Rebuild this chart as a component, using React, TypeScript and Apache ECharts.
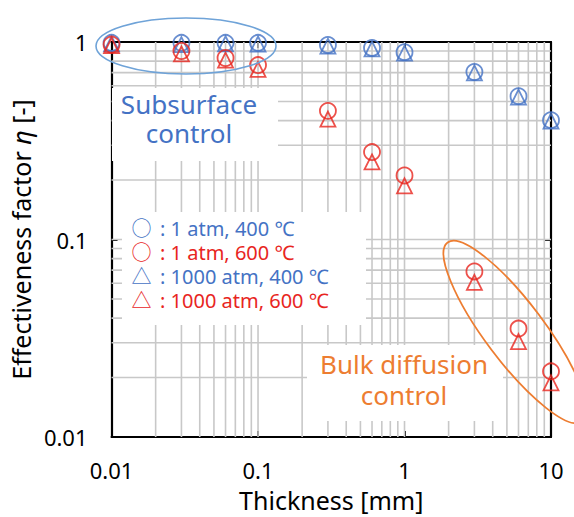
import React, { useEffect, useRef } from 'react';
import * as echarts from 'echarts';

// ---- data ----
const thickness = [0.01, 0.03, 0.06, 0.1, 0.3, 0.6, 1, 3, 6, 10];
const eta1atm400 = [0.99, 0.99, 0.99, 0.99, 0.966, 0.933, 0.888, 0.705, 0.532, 0.402];
const eta1atm600 = [0.97, 0.9, 0.83, 0.764, 0.448, 0.277, 0.211, 0.0689, 0.0354, 0.0215];
const eta1000atm400 = [0.98, 0.97, 0.98, 0.977, 0.952, 0.923, 0.878, 0.697, 0.526, 0.398];
const eta1000atm600 = [0.96, 0.87, 0.81, 0.727, 0.407, 0.247, 0.187, 0.0607, 0.0304, 0.0188];

const xTickValues = [0.01, 0.1, 1, 10];
const xTickLabels = ['0.01', '0.1', '1', '10'];
const yTickValues = [0.01, 0.1, 1];
const yTickLabels = ['0.01', '0.1', '1'];

const xGridValues = [
  0.02, 0.03, 0.04, 0.05, 0.06, 0.07, 0.08, 0.09,
  0.1, 0.2, 0.3, 0.4, 0.5, 0.6, 0.7, 0.8, 0.9,
  1, 2, 3, 4, 5, 6, 7, 8, 9,
];
const yGridValues = [
  0.02, 0.03, 0.04, 0.05, 0.06, 0.07, 0.08, 0.09,
  0.1, 0.2, 0.3, 0.4, 0.5, 0.6, 0.7, 0.8, 0.9,
];

// legend rows: marker glyph, condition text
const legendMarks = ['○', '○', '△', '△'];
const legendTexts = ['1 atm, 400 ℃', '1 atm, 600 ℃', '1000 atm, 400 ℃', '1000 atm, 600 ℃'];

const BLUE = '#4472C4';
const RED = '#E8251E';
const ORANGE = '#ED7D31';
const LIGHTBLUE = '#6FA3D8';
const GRID = '#C8C8C8';
const FONT = '"Noto Sans", "Noto Sans CJK JP", sans-serif';

const X_MIN = 0.01, X_MAX = 10, Y_MIN = 0.01, Y_MAX = 1;

function lookup(values: number[], labels: string[], v: number) {
  const i = values.findIndex((t) => Math.abs(Math.log10(t) - Math.log10(v)) < 1e-6);
  return i >= 0 ? labels[i] : '';
}

function pairs(ys: number[]) {
  return thickness.map((x, i) => [x, ys[i]]);
}

export default function App() {
  const ref = useRef<HTMLDivElement>(null);

  useEffect(() => {
    const chart = echarts.init(ref.current!, null, { renderer: 'svg' });

    const gridData = [
      ...xGridValues.map((v) => [v, 1, 0]),
      ...yGridValues.map((v) => [1, v, 1]),
    ];

    const axisLine = { show: true, lineStyle: { color: '#000', width: 2.2 } };
    const axisTick = { show: true, inside: true, length: 6, lineStyle: { color: '#000', width: 2 } };

    const scatterBase = {
      type: 'scatter',
      xAxisIndex: 0,
      yAxisIndex: 0,
      z: 5,
      silent: true,
    };

    const legendElements = legendMarks.map((m, i) => ({
      type: 'text', silent: true, z: 10, x: 131.5, y: 228 + i * 24.3,
      style: {
        text: `${m}\u2009 : ${legendTexts[i]}`,
        fill: i % 2 === 0 ? BLUE : RED,
        font: `20px ${FONT}`,
        align: 'left',
        verticalAlign: 'middle',
      },
    }));

    const option: any = {
      animation: false,
      backgroundColor: '#fff',
      grid: { left: 109.5, right: 23, top: 42, bottom: 75.5, containLabel: false },
      xAxis: [
        {
          type: 'log',
          logBase: 10,
          min: X_MIN,
          max: X_MAX,
          position: 'bottom',
          axisLine,
          axisTick,
          splitLine: { show: false },
          axisLabel: {
            fontSize: 22,
            lineHeight: 22,
            fontFamily: FONT,
            color: '#000',
            margin: 22,
            formatter: (v: number) => lookup(xTickValues, xTickLabels, v),
          },
          name: 'Thickness [mm]',
          nameLocation: 'middle',
          nameGap: 50,
          nameTextStyle: { fontSize: 25, lineHeight: 25, fontFamily: FONT, color: '#000' },
        },
        {
          type: 'log',
          logBase: 10,
          min: X_MIN,
          max: X_MAX,
          position: 'top',
          axisLine,
          axisTick,
          splitLine: { show: false },
          axisLabel: { show: false },
        },
      ],
      yAxis: [
        {
          type: 'log',
          logBase: 10,
          min: Y_MIN,
          max: Y_MAX,
          position: 'left',
          axisLine,
          axisTick,
          splitLine: { show: false },
          axisLabel: {
            fontSize: 22,
            lineHeight: 22,
            fontFamily: FONT,
            color: '#000',
            margin: 24,
            formatter: (v: number) => lookup(yTickValues, yTickLabels, v),
          },
          name: 'Effectiveness factor {i|η} [-]',
          nameLocation: 'middle',
          nameGap: 67,
          nameTextStyle: {
            fontSize: 25,
            lineHeight: 25,
            fontFamily: FONT,
            color: '#000',
            rich: { i: { fontSize: 25, lineHeight: 25, fontFamily: FONT, fontStyle: 'italic', color: '#000' } },
          },
        },
        {
          type: 'log',
          logBase: 10,
          min: Y_MIN,
          max: Y_MAX,
          position: 'right',
          axisLine,
          axisTick,
          splitLine: { show: false },
          axisLabel: { show: false },
        },
      ],
      series: [
        {
          type: 'custom',
          xAxisIndex: 0,
          yAxisIndex: 0,
          z: 1,
          silent: true,
          clip: false,
          data: gridData,
          encode: { x: 0, y: 1 },
          renderItem: (_params: any, api: any) => {
            const o = api.value(2);
            let p1: number[], p2: number[];
            if (o === 0) {
              const v = api.value(0);
              p1 = api.coord([v, Y_MIN]);
              p2 = api.coord([v, Y_MAX]);
            } else {
              const v = api.value(1);
              p1 = api.coord([X_MIN, v]);
              p2 = api.coord([X_MAX, v]);
            }
            return {
              type: 'line',
              shape: { x1: p1[0], y1: p1[1], x2: p2[0], y2: p2[1] },
              style: { stroke: GRID, lineWidth: 1.6 },
            };
          },
        },
        {
          ...scatterBase,
          name: '1 atm, 400 ℃',
          symbol: 'circle',
          symbolSize: 16,
          itemStyle: { color: 'rgba(0,0,0,0)', borderColor: BLUE, borderWidth: 1.8 },
          data: pairs(eta1atm400),
        },
        {
          ...scatterBase,
          name: '1000 atm, 400 ℃',
          symbol: 'triangle',
          symbolSize: 15,
          itemStyle: { color: 'rgba(0,0,0,0)', borderColor: BLUE, borderWidth: 1.8 },
          data: pairs(eta1000atm400),
        },
        {
          ...scatterBase,
          name: '1 atm, 600 ℃',
          symbol: 'circle',
          symbolSize: 16,
          itemStyle: { color: 'rgba(0,0,0,0)', borderColor: RED, borderWidth: 1.8 },
          data: pairs(eta1atm600),
        },
        {
          ...scatterBase,
          name: '1000 atm, 600 ℃',
          symbol: 'triangle',
          symbolSize: 15,
          itemStyle: { color: 'rgba(0,0,0,0)', borderColor: RED, borderWidth: 1.8 },
          data: pairs(eta1000atm600),
        },
      ],
      graphic: {
        elements: [
          // white text-box backgrounds hiding gridlines
          { type: 'rect', silent: true, z: 2, shape: { x: 112, y: 88, width: 166, height: 73 }, style: { fill: '#fff' } },
          { type: 'rect', silent: true, z: 2, shape: { x: 122, y: 212, width: 244, height: 113 }, style: { fill: '#fff' } },
          { type: 'rect', silent: true, z: 2, shape: { x: 307, y: 345, width: 196, height: 76 }, style: { fill: '#fff' } },
          // annotations
          {
            type: 'text', silent: true, z: 10, x: 189, y: 118.3,
            style: {
              text: 'Subsurface\ncontrol', fill: BLUE, font: `26px ${FONT}`, lineHeight: 28.7,
              align: 'center', verticalAlign: 'middle',
            },
          },
          {
            type: 'text', silent: true, z: 10, x: 404, y: 379.5,
            style: {
              text: 'Bulk diffusion\ncontrol', fill: ORANGE, font: `26px ${FONT}`, lineHeight: 31,
              align: 'center', verticalAlign: 'middle',
            },
          },
          ...legendElements,
          {
            type: 'ellipse', silent: true, z: 10, x: 186, y: 46,
            shape: { cx: 0, cy: 0, rx: 90, ry: 28 },
            style: { fill: 'none', stroke: LIGHTBLUE, lineWidth: 1.6 },
          },
          {
            type: 'ellipse', silent: true, z: 10, x: 515, y: 332, rotation: (-53 * Math.PI) / 180,
            shape: { cx: 0, cy: 0, rx: 112, ry: 29.5 },
            style: { fill: 'none', stroke: ORANGE, lineWidth: 1.8 },
          },
        ],
      },
    };

    chart.setOption(option);
    return () => chart.dispose();
  }, []);

  return <div ref={ref} style={{ position: 'absolute', left: 0, top: 0, width: 574, height: 517 }} />;
}
